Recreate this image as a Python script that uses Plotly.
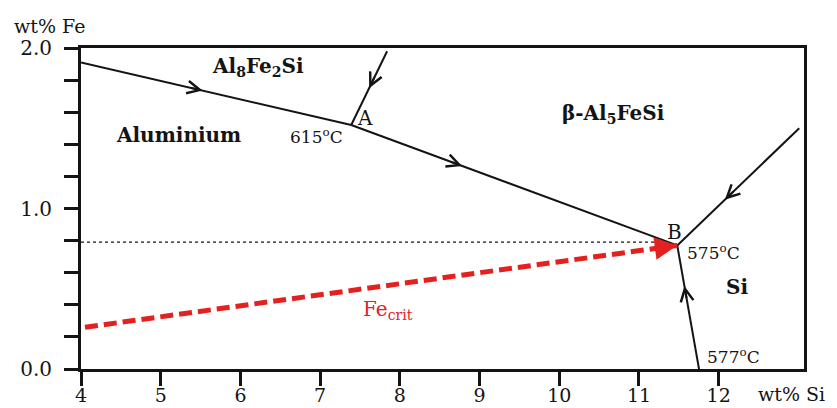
import math
import plotly.graph_objects as go

# ---- data (wt% Si, wt% Fe) ----
pt_A = (7.39, 1.52)
pt_B = (11.48, 0.77)
line1_x = [4.0, pt_A[0]]; line1_y = [1.91, pt_A[1]]
lineTA_x = [7.84, pt_A[0]]; lineTA_y = [1.98, pt_A[1]]
lineAB_x = [pt_A[0], pt_B[0]]; lineAB_y = [pt_A[1], pt_B[1]]
lineRB_x = [13.01, pt_B[0]]; lineRB_y = [1.50, pt_B[1]]
lineBB_x = [11.76, pt_B[0]]; lineBB_y = [-0.02, pt_B[1]]
dotted_x = [4.0, 11.3]; dotted_y = [0.79, 0.79]
fecrit_x = [4.05, pt_B[0]]; fecrit_y = [0.26, pt_B[1]]

x_ticks = [4, 5, 6, 7, 8, 9, 10, 11, 12]
y_ticks = [0.0, 0.2, 0.4, 0.6, 0.8, 1.0, 1.2, 1.4, 1.6, 1.8, 2.0]
y_ticktext = ["0.0", "", "", "", "", "1.0", "", "", "", "", "2.0"]

region_labels = ["<b>Al<sub>8</sub>Fe<sub>2</sub>Si</b>", "<b>Aluminium</b>",
                 "<b>β-Al<sub>5</sub>FeSi</b>", "<b>Si</b>"]
region_x = [6.22, 5.22, 10.68, 12.23]
region_y = [1.88, 1.46, 1.59, 0.51]

temp_labels = ["615<sup>o</sup>C", "575<sup>o</sup>C", "577<sup>o</sup>C"]
temp_x = [6.95, 11.93, 12.18]
temp_y = [1.45, 0.73, 0.08]

point_labels = ["A", "B"]
point_x = [7.56, 11.44]
point_y = [1.565, 0.855]

# ---- style ----
FONT = "DejaVu Serif"
BLACK = "#141414"
RED = "#e3211f"
X_RANGE = [4, 13.07]
Y_RANGE = [0, 2.0]
BODY = 8  # default page margin of the html body
W, H = 837 - BODY, 408 - BODY
M = dict(l=81 - BODY, r=33, t=48 - BODY, b=39)
px_x = (W - M["l"] - M["r"]) / (X_RANGE[1] - X_RANGE[0])
px_y = (H - M["t"] - M["b"]) / (Y_RANGE[1] - Y_RANGE[0])


def back_offset(sx, sy, length):
    """pixel offset pointing back along a segment (for annotation tails)"""
    dxp = (sx[1] - sx[0]) * px_x
    dyp = -(sy[1] - sy[0]) * px_y
    n = math.hypot(dxp, dyp)
    return -length * dxp / n, -length * dyp / n


fig = go.Figure()

segments = [(line1_x, line1_y, 0.45), (lineTA_x, lineTA_y, 0.5), (lineAB_x, lineAB_y, 0.34),
            (lineRB_x, lineRB_y, 0.61), (lineBB_x, lineBB_y, 0.68)]
for sx, sy, _ in segments:
    fig.add_trace(go.Scatter(x=sx, y=sy, mode="lines", line=dict(color=BLACK, width=2),
                             hoverinfo="skip", showlegend=False))

fig.add_trace(go.Scatter(x=dotted_x, y=dotted_y, mode="lines",
                         line=dict(color=BLACK, width=1.3, dash="dot"),
                         hoverinfo="skip", showlegend=False))

fig.add_trace(go.Scatter(x=fecrit_x, y=fecrit_y, mode="lines",
                         line=dict(color=RED, width=5, dash="13px,6px"),
                         hoverinfo="skip", showlegend=False))

annotations = []
# open chevron arrowheads along the lines
for sx, sy, t in segments:
    tx = sx[0] + t * (sx[1] - sx[0]); ty = sy[0] + t * (sy[1] - sy[0])
    ax, ay = back_offset(sx, sy, 14)
    annotations.append(dict(x=tx, y=ty, ax=ax, ay=ay, xref="x", yref="y",
                            axref="pixel", ayref="pixel",
                            showarrow=True, arrowhead=5, arrowsize=1.25, arrowwidth=2,
                            arrowcolor=BLACK, text=""))
# filled red arrowhead at the end of Fe_crit
ax, ay = back_offset(fecrit_x, fecrit_y, 20)
annotations.append(dict(x=fecrit_x[1], y=fecrit_y[1], ax=ax, ay=ay, xref="x", yref="y",
                        axref="pixel", ayref="pixel", showarrow=True, arrowhead=2,
                        arrowsize=0.9, arrowwidth=5, arrowcolor=RED, text=""))

for txt, x, y in zip(region_labels, region_x, region_y):
    annotations.append(dict(x=x, y=y, xref="x", yref="y", text=txt, showarrow=False,
                            font=dict(family=FONT, size=20, color=BLACK)))
for txt, x, y in zip(temp_labels, temp_x, temp_y):
    annotations.append(dict(x=x, y=y, xref="x", yref="y", text=txt, showarrow=False,
                            font=dict(family=FONT, size=17, color=BLACK)))
for txt, x, y in zip(point_labels, point_x, point_y):
    annotations.append(dict(x=x, y=y, xref="x", yref="y", text=txt, showarrow=False,
                            font=dict(family=FONT, size=20, color=BLACK)))
annotations.append(dict(x=7.85, y=0.37, xref="x", yref="y", text="Fe<sub>crit</sub>",
                        showarrow=False, font=dict(family=FONT, size=20, color=RED)))
annotations.append(dict(x=-0.095, y=1.07, xref="paper", yref="paper", xanchor="left",
                        yanchor="middle", text="wt% Fe", showarrow=False,
                        font=dict(family=FONT, size=19, color=BLACK)))
annotations.append(dict(x=0.934, y=-0.078, xref="paper", yref="paper", xanchor="left",
                        yanchor="middle", text="wt% Si", showarrow=False,
                        font=dict(family=FONT, size=19, color=BLACK)))

fig.update_layout(
    width=W, height=H,
    margin=dict(l=M["l"], r=M["r"], t=M["t"], b=M["b"], autoexpand=False),
    paper_bgcolor="white", plot_bgcolor="white",
    annotations=annotations,
    xaxis=dict(range=X_RANGE, tickvals=x_ticks, ticks="outside", ticklen=14, tickwidth=2.5,
               tickcolor=BLACK, showline=True, linecolor=BLACK, linewidth=3, mirror=True,
               showgrid=False, zeroline=False, ticklabelstandoff=-7,
               tickfont=dict(family=FONT, size=19, color=BLACK)),
    yaxis=dict(range=Y_RANGE, tickvals=y_ticks, ticktext=y_ticktext, ticks="outside",
               ticklen=14, tickwidth=2.5, tickcolor=BLACK, showline=True, linecolor=BLACK,
               linewidth=3, mirror=True, showgrid=False, zeroline=False,
               ticklabelstandoff=8,
               tickfont=dict(family=FONT, size=20, color=BLACK)),
)

fig.write_html("out.html")
